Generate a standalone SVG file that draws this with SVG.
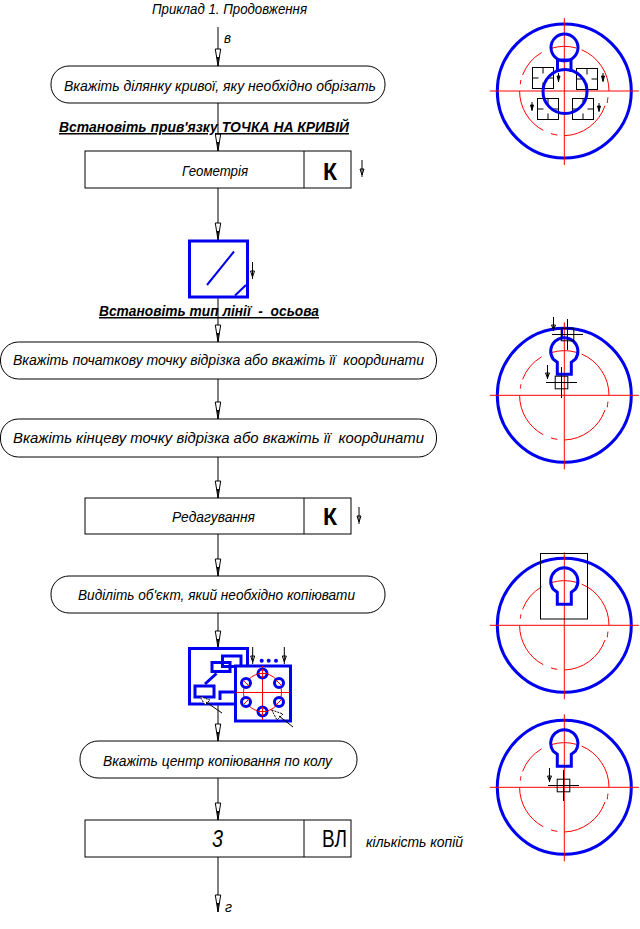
<svg xmlns="http://www.w3.org/2000/svg" width="640" height="929" viewBox="0 0 640 929">
<style>
text{font-family:"Liberation Sans",Arial,sans-serif;font-style:italic;font-size:15px;fill:#000;white-space:pre}
.c{fill:none;stroke:#000;stroke-width:1;marker-end:url(#ah)}
.n{fill:#fff;stroke:#000;stroke-width:1}
.h{font-weight:bold;text-decoration:underline}
.k{font-style:normal;font-weight:bold;font-size:23px}
.b{fill:none;stroke:#0000f0;stroke-width:3}
.bw{fill:#fff;stroke:#0000f0;stroke-width:3}
.r{fill:none;stroke:#f00;stroke-width:1}
.l{fill:none;stroke:#000;stroke-width:1}
</style>
<defs>
<marker id="ah" markerUnits="userSpaceOnUse" markerWidth="20" markerHeight="8" refX="18" refY="4" orient="auto" viewBox="0 0 20 8">
<path d="M1,1.300 L18,4 L1,6.700Z" fill="#fff" stroke="#000" stroke-width="1"/><path d="M9,2.900 L18,4 L9,5.100Z" fill="#000"/>
</marker>
<g id="sa"><path class="l" d="M0,0V17M-2,9H2L0,15Z"/></g>
<g id="sb"><path class="l" d="M0,0V14M-2,8H2L0,13Z"/><path d="M-1.300,9.500H1.300L0,13Z" fill="#000"/></g>
<g id="sc"><path class="l" d="M0,0V9M-1.500,3H1.500L0,8Z"/><path d="M-1.500,3H1.500L0,8Z" fill="#000"/></g>
<g id="cursor"><rect class="l" x="-6.300" y="-6.300" width="12.600" height="12.600"/><path class="l" d="M-15.500,0H15.500M0,-15.500V15.500"/></g>
<g id="pick"><rect class="l" x="0" y="0" width="21" height="21"/><path class="l" d="M10.500,0V6M10.500,15V21M0,10.500H6M15,10.500H21"/></g>
<g id="wheel">
<circle cx="0" cy="0" r="67" fill="none" stroke="#0000f0" stroke-width="3"/>
<path class="r" d="M0,44.700A44.700,44.700 0 0 0 40.700,14.700M43.700,6.300A44.700,44.700 0 0 0 43,12M44.700,0A44.700,44.700 0 0 0 17.300,-41.200M12,-43A44.700,44.700 0 0 0 -13,-42.700M-22.700,-38.500A44.700,44.700 0 0 0 -41.700,-16M-43.400,-11A44.700,44.700 0 0 0 -44,-6.700M-44.700,0A44.700,44.700 0 0 0 -21,39.400M-13.300,42.600A44.700,44.700 0 0 0 -7,44.100"/>
<path class="r" d="M-74.500,0H74.500M0,-73V74"/>
</g>
<path id="key" class="b" d="M-7,-21V-33L-11,-36A13.600,13.600 0 1 1 11,-36L7,-33V-21Z"/>
</defs>

<g id="connectors">
<path class="c" d="M218,27V66"/>
<path class="c" d="M218,103V151"/>
<path class="c" d="M218,188V240"/>
<path class="c" d="M218,297V342"/>
<path class="c" d="M218,379V419"/>
<path class="c" d="M218,457V498"/>
<path class="c" d="M218,534V576"/>
<path class="c" d="M218,613V648"/>
<path class="c" d="M218,704V741"/>
<path class="c" d="M218,778V820"/>
<path class="c" d="M218,857V912"/>
</g>

<text id="title" x="152" y="14" textLength="155" lengthAdjust="spacingAndGlyphs">Приклад 1. Продовження</text>
<text id="label-v" x="224" y="43" textLength="7" lengthAdjust="spacingAndGlyphs">в</text>

<g id="n1"><rect class="n" x="51" y="66" width="334" height="37" rx="18" ry="18"/><text x="64" y="91" textLength="312" lengthAdjust="spacingAndGlyphs">Вкажіть ділянку кривої, яку необхідно обрізать</text></g>
<text id="h1" class="h" x="59" y="132" textLength="290" lengthAdjust="spacingAndGlyphs">Встановіть прив'язку ТОЧКА НА КРИВІЙ</text>
<g id="n2"><rect class="n" x="85" y="151" width="266" height="37"/><path class="l" d="M304,151V188"/><text x="182" y="176" textLength="66" lengthAdjust="spacingAndGlyphs">Геометрія</text><text class="k" x="323" y="180">К</text></g>
<use href="#sa" x="362" y="160"/>

<g id="icon-line">
<rect class="b" x="189.500" y="241" width="58" height="56"/>
<path class="b" style="stroke-width:2" d="M207,285L234,251.500M235,295.500L246,285"/>
<use href="#sa" x="252.500" y="262"/>
</g>
<text id="h2" class="h" x="99" y="316" textLength="220" lengthAdjust="spacingAndGlyphs">Встановіть тип лінії  -  осьова</text>

<g id="n3"><rect class="n" x="0.500" y="342" width="436" height="37" rx="18" ry="18"/><text x="13" y="365" textLength="411" lengthAdjust="spacingAndGlyphs">Вкажіть початкову точку відрізка або вкажіть її  координати</text></g>
<g id="n4"><rect class="n" x="0.500" y="419" width="436" height="38" rx="18" ry="18"/><text x="13" y="443" textLength="411" lengthAdjust="spacingAndGlyphs">Вкажіть кінцеву точку відрізка або вкажіть її  координати</text></g>
<g id="n5"><rect class="n" x="85" y="498" width="266" height="36"/><path class="l" d="M304,498V534"/><text x="172" y="522" textLength="83" lengthAdjust="spacingAndGlyphs">Редагування</text><text class="k" x="323" y="525">К</text></g>
<use href="#sa" x="359" y="507"/>
<g id="n6"><rect class="n" x="51" y="576" width="334" height="37" rx="18" ry="18"/><text x="78" y="600" textLength="277" lengthAdjust="spacingAndGlyphs">Виділіть об'єкт, який необхідно копіювати</text></g>

<g id="icon-copy">
<rect class="b" x="189.500" y="648.500" width="58" height="55.500"/>
<rect class="b" x="195" y="686" width="19" height="11"/>
<rect class="b" x="212" y="662.500" width="18" height="9"/>
<rect class="b" x="222.500" y="656" width="18.500" height="10.500"/>
<path class="b" d="M205,684L216.500,673.500M220,700V692H236"/>
<path d="M200,696.500L210,700L205,705Z" fill="#fff" stroke="#000" stroke-dasharray="2 1"/><path class="l" d="M206,702L222,713"/>
<rect class="bw" x="235.500" y="666" width="55" height="55"/>
<circle cx="262.500" cy="692.500" r="19" class="r"/>
<path class="r" d="M236,692.500H289.500M262.500,666V720"/>
<g fill="#fff" stroke="#0000f0" stroke-width="3">
<circle cx="262.500" cy="673.500" r="4.500"/><circle cx="246" cy="683" r="4.500"/><circle cx="279" cy="683" r="4.500"/><circle cx="246" cy="702" r="4.500"/><circle cx="279" cy="702" r="4.500"/><circle cx="262.500" cy="711.500" r="4.500"/>
</g>
<path class="r" d="M258,673.500H267M262.500,669V678M243,680L249,686M276,680L282,686M243,705L249,699M276,705L282,699M258,711.500H267M262.500,707V716"/>
<circle cx="261.700" cy="660.700" r="2" fill="#0000f0"/><circle cx="268.700" cy="660.700" r="2" fill="#0000f0"/><circle cx="276" cy="660.700" r="2" fill="#0000f0"/>
<use href="#sa" x="252.700" y="647"/><use href="#sa" x="284.300" y="647"/>
<path d="M271.700,710L283,714L277,720Z" fill="#fff" stroke="#000" stroke-dasharray="2 1"/><path class="l" d="M279,716L293,727"/>
</g>

<g id="n7"><rect class="n" x="80" y="741" width="277" height="37" rx="18" ry="18"/><text x="103" y="766" textLength="229" lengthAdjust="spacingAndGlyphs">Вкажіть центр копіювання по колу</text></g>
<g id="n8"><rect class="n" x="85" y="820" width="266" height="37"/><path class="l" d="M304,820V857"/><text x="212" y="847" style="font-size:24px" textLength="11" lengthAdjust="spacingAndGlyphs">3</text><text x="322" y="847" style="font-size:24px;font-style:normal" textLength="25" lengthAdjust="spacingAndGlyphs">ВЛ</text></g>
<text id="label-count" x="366" y="847" textLength="97" lengthAdjust="spacingAndGlyphs">кількість копій</text>
<text id="label-g" x="225" y="912" textLength="7" lengthAdjust="spacingAndGlyphs">г</text>

<g id="view1">
<use href="#wheel" x="564.300" y="91"/>
<use href="#pick" x="532.500" y="67.500"/><use href="#pick" x="576.500" y="68.500"/><use href="#pick" x="537.500" y="98.500"/><use href="#pick" x="572.500" y="98.500"/>
<circle class="b" cx="564.500" cy="47.500" r="13.500"/>
<path class="b" d="M557.500,60V72M571,60V72M558,60H571"/>
<circle class="b" cx="565" cy="91.500" r="22"/>
<use href="#sc" x="558.500" y="73"/><use href="#sc" x="603" y="73"/><use href="#sc" x="532" y="102"/><use href="#sc" x="599" y="103"/>
</g>
<g id="view2">
<use href="#wheel" x="564.300" y="395.300"/>
<use href="#key" x="564.300" y="395.300"/>
<path class="b" style="stroke-width:2" d="M562,329V339"/>
<use href="#cursor" x="567.500" y="334.500"/>
<use href="#sb" x="553.500" y="317"/>
<use href="#cursor" x="561.500" y="382.500"/>
<use href="#sb" x="547.500" y="365"/>
</g>
<g id="view3">
<use href="#wheel" x="564.300" y="625.300"/>
<use href="#key" x="564.300" y="625.300"/>
<rect class="l" x="540.500" y="553.500" width="47" height="65.500"/>
</g>
<g id="view4">
<use href="#wheel" x="564.300" y="787.300"/>
<use href="#key" x="564.300" y="787.300"/>
<use href="#cursor" x="563.500" y="785.500"/>
<use href="#sb" x="549.500" y="768"/>
</g>
</svg>
